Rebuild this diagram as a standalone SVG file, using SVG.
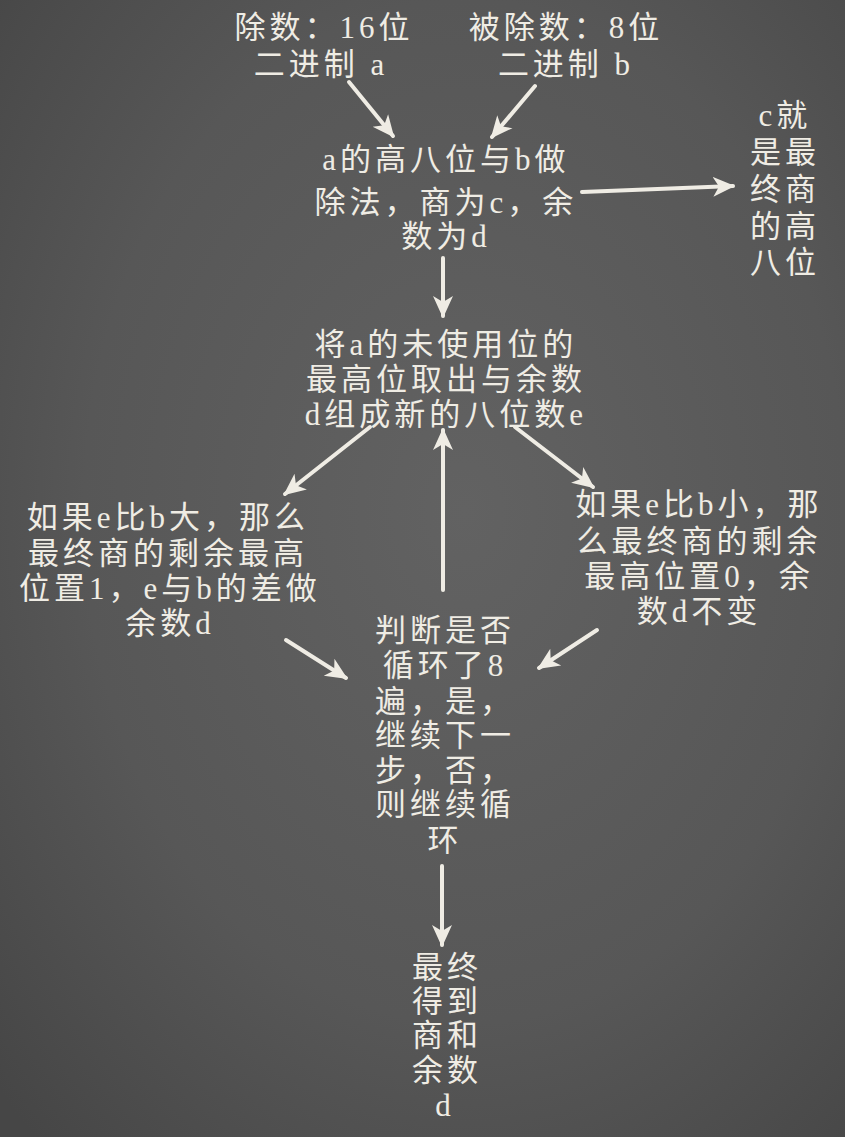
<svg xmlns="http://www.w3.org/2000/svg" width="845" height="1137" viewBox="0 0 845 1137">
<defs>
<radialGradient id="bg" cx="0.55" cy="0.45" r="0.75">
<stop offset="0" stop-color="#626262"/>
<stop offset="0.6" stop-color="#575757"/>
<stop offset="1" stop-color="#464646"/>
</radialGradient>
<marker id="ah" markerUnits="userSpaceOnUse" markerWidth="26" markerHeight="24" refX="20" refY="12" orient="auto">
<path d="M0,2 L22,12 L0,22 L6,12 Z" fill="#efece4"/>
</marker>
<style>
text{font-family:"Liberation Serif","Noto Sans CJK SC",serif;font-size:31px;fill:#efece4;text-anchor:middle;letter-spacing:4px}
.c{stroke:#efece4;stroke-width:4;fill:none;stroke-linecap:round;marker-end:url(#ah)}
</style>
</defs>
<rect width="845" height="1137" fill="url(#bg)"/>
<g id="connectors">
<line class="c" x1="349" y1="82" x2="393" y2="136"/>
<line class="c" x1="535" y1="86" x2="492" y2="137"/>
<line class="c" x1="582" y1="192" x2="733" y2="186"/>
<line class="c" x1="443" y1="258" x2="443" y2="316"/>
<line class="c" x1="370" y1="427" x2="285" y2="494"/>
<line class="c" x1="515" y1="427" x2="593" y2="487"/>
<line class="c" x1="443" y1="590" x2="443" y2="430"/>
<line class="c" x1="286" y1="640" x2="346" y2="678"/>
<line class="c" x1="597" y1="630" x2="539" y2="668"/>
<line class="c" x1="442" y1="866" x2="442" y2="945"/>
</g>
<g id="n_divisor">
<text x="324" y="38">除数：16位</text>
<text x="321" y="75">二进制 a</text>
</g>
<g id="n_dividend">
<text x="566" y="38">被除数：8位</text>
<text x="566" y="75">二进制 b</text>
</g>
<g id="n_high">
<text x="446" y="170">a的高八位与b做</text>
<text x="446" y="213">除法，商为c，余</text>
<text x="446" y="247">数为d</text>
</g>
<g id="n_c">
<text x="785" y="126">c就</text>
<text x="785" y="163">是最</text>
<text x="785" y="200">终商</text>
<text x="785" y="237">的高</text>
<text x="785" y="273">八位</text>
</g>
<g id="n_e">
<text x="446" y="355">将a的未使用位的</text>
<text x="446" y="390">最高位取出与余数</text>
<text x="446" y="425">d组成新的八位数e</text>
</g>
<g id="n_big">
<text x="168" y="528">如果e比b大，那么</text>
<text x="168" y="564">最终商的剩余最高</text>
<text x="170" y="599">位置1，e与b的差做</text>
<text x="170" y="634">余数d</text>
</g>
<g id="n_small">
<text x="699" y="515">如果e比b小，那</text>
<text x="699" y="552">么最终商的剩余</text>
<text x="699" y="587">最高位置0，余</text>
<text x="699" y="622">数d不变</text>
</g>
<g id="n_loop">
<text x="445" y="641">判断是否</text>
<text x="445" y="676">循环了8</text>
<text x="445" y="712">遍，是，</text>
<text x="445" y="746">继续下一</text>
<text x="445" y="781">步，否，</text>
<text x="445" y="815">则继续循</text>
<text x="445" y="851">环</text>
</g>
<g id="n_final">
<text x="447" y="978">最终</text>
<text x="447" y="1012">得到</text>
<text x="447" y="1046">商和</text>
<text x="447" y="1081">余数</text>
<text x="445" y="1116">d</text>
</g>
</svg>
